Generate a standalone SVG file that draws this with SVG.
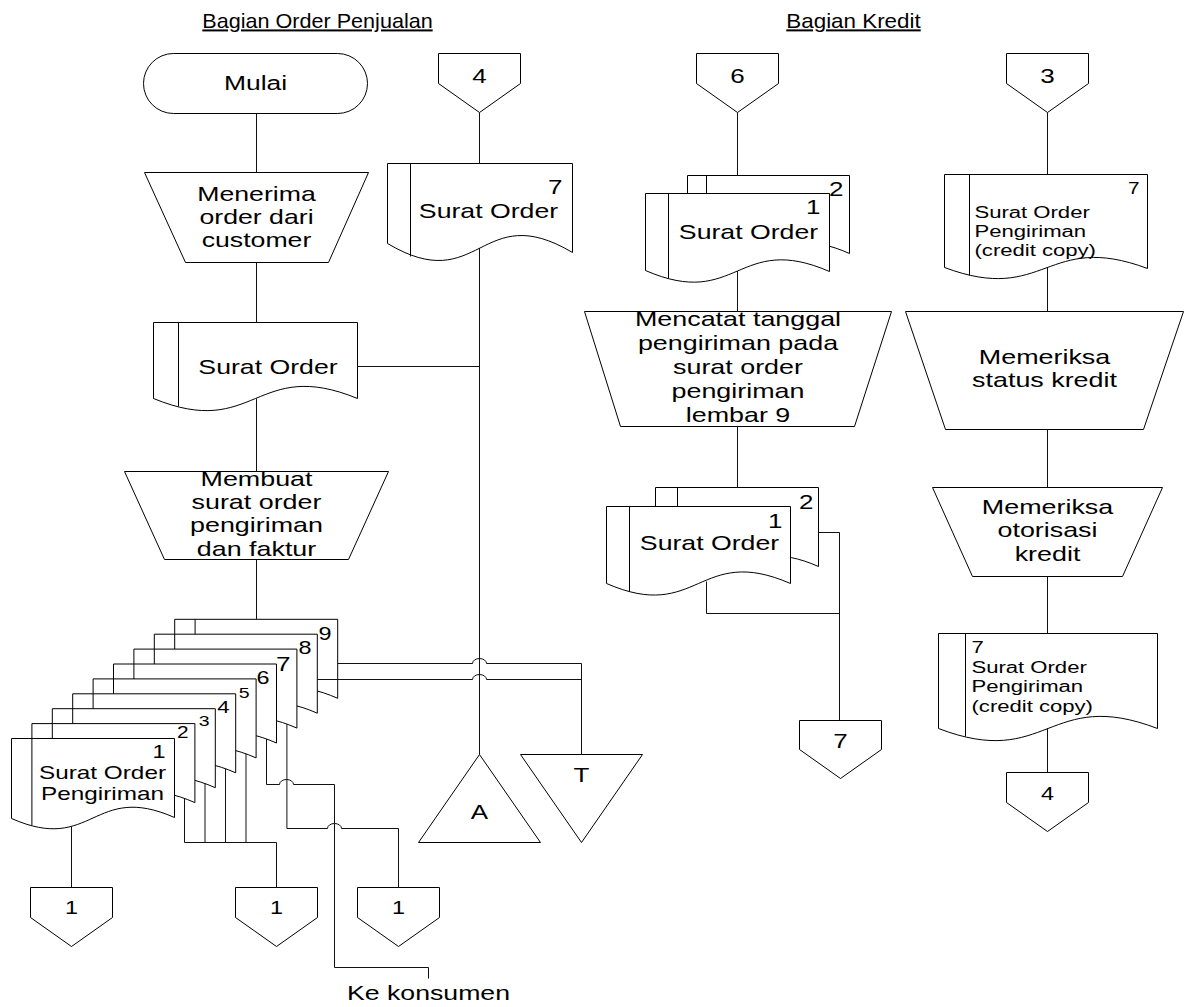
<svg xmlns="http://www.w3.org/2000/svg" width="1186" height="1007" viewBox="0 0 1186 1007">
<style>
.s{fill:#fff;stroke:#000;stroke-width:1}
.ln{fill:none;stroke:#000;stroke-width:1}
.c{fill:none;stroke:#111;stroke-width:1}
text{font-family:"Liberation Sans",Arial,sans-serif;fill:#000}
.f21{font-size:21px}
.f20{font-size:20px}
.f19{font-size:19px}
.f18{font-size:18px}
.f17{font-size:17px}
.f16{font-size:16px}
.f15{font-size:15px}
.m{text-anchor:middle}
.e{text-anchor:end}
.u{text-decoration:underline}
</style>
<rect width="1186" height="1007" fill="#fff"/>
<g transform="translate(0.5,0.5)">
<g id="title-order"><text class="f20 m u" transform="matrix(1.08 0 0 1 317 27)">Bagian Order Penjualan</text></g>
<g id="title-kredit"><text class="f20 m u" transform="matrix(1.12 0 0 1 853 27)">Bagian Kredit</text></g>

<g id="mulai"><rect class="s" x="143" y="53" width="224" height="60" rx="30"/><text class="f21 m" transform="matrix(1.26 0 0 1 255 89)">Mulai</text></g>

<g id="menerima"><path class="s" d="M144,172 H368 L328,262 H185 Z"/><text class="f21 m" transform="matrix(1.27 0 0 1 256 200)"><tspan x="0" y="0">Menerima</tspan><tspan x="0" y="23.5">order dari</tspan><tspan x="0" y="47">customer</tspan></text></g>

<g id="surat-order-a"><path class="s" d="M153,322 H357 V398 C255,356 255,440 153,398 Z"/><path class="ln" d="M178,322 V406"/><text class="f21 m" transform="matrix(1.27 0 0 1 267.5 373)">Surat Order</text></g>

<g id="membuat"><path class="s" d="M124,471 H388 L348,559 H164 Z"/><text class="f21 m" transform="matrix(1.28 0 0 1 256 485)"><tspan x="0" y="0">Membuat</tspan><tspan x="0" y="23.5">surat order</tspan><tspan x="0" y="47">pengiriman</tspan><tspan x="0" y="71">dan faktur</tspan></text></g>

<g id="sop-stack">
<g id="sop-9"><path class="s" d="M174.2,618.8 H337.2 V697.8 C255.7,661.8 255.7,734.8 174.2,698.8 Z"/><path class="ln" d="M194.6,618.8 V705.8"/><text class="f18 e" transform="matrix(1.3 0 0 1 331 639)">9</text></g>
<g id="sop-8"><path class="s" d="M153.8,633.7 H316.8 V712.7 C235.3,676.7 235.3,749.7 153.8,713.7 Z"/><path class="ln" d="M174.2,633.7 V720.7"/><text class="f18 e" transform="matrix(1.3 0 0 1 311 653)">8</text></g>
<g id="sop-7"><path class="s" d="M133.4,648.6 H296.4 V727.6 C214.9,691.6 214.9,764.6 133.4,728.6 Z"/><path class="ln" d="M153.8,648.6 V735.6"/><text class="f20 e" transform="matrix(1.3 0 0 1 290 670)">7</text></g>
<g id="sop-6"><path class="s" d="M113,663.5 H276 V742.5 C194.5,706.5 194.5,779.5 113,743.5 Z"/><path class="ln" d="M133.4,663.5 V750.5"/><text class="f18 e" transform="matrix(1.3 0 0 1 269 683)">6</text></g>
<g id="sop-5"><path class="s" d="M92.6,678.4 H255.6 V757.4 C174.1,721.4 174.1,794.4 92.6,758.4 Z"/><path class="ln" d="M113,678.4 V765.4"/><text class="f15 e" transform="matrix(1.3 0 0 1 249 697)">5</text></g>
<g id="sop-4"><path class="s" d="M72.2,693.3 H235.2 V772.3 C153.7,736.3 153.7,809.3 72.2,773.3 Z"/><path class="ln" d="M92.6,693.3 V780.3"/><text class="f17 e" transform="matrix(1.3 0 0 1 229 712)">4</text></g>
<g id="sop-3"><path class="s" d="M51.8,708.2 H214.8 V787.2 C133.3,751.2 133.3,824.2 51.8,788.2 Z"/><path class="ln" d="M72.2,708.2 V795.2"/><text class="f15 e" transform="matrix(1.3 0 0 1 209 725)">3</text></g>
<g id="sop-2"><path class="s" d="M31.4,723.1 H194.4 V802.1 C112.9,766.1 112.9,839.1 31.4,803.1 Z"/><path class="ln" d="M51.8,723.1 V810.1"/><text class="f16 e" transform="matrix(1.3 0 0 1 188 737)">2</text></g>
<g id="sop-1"><path class="s" d="M11,738 H174 V817 C92.5,781 92.5,854 11,818 Z"/><path class="ln" d="M31.4,738 V825"/><text class="f18 e" transform="matrix(1.3 0 0 1 165 757)">1</text><text class="f19 m" transform="matrix(1.28 0 0 1 102 778)"><tspan x="0" y="0">Surat Order</tspan><tspan x="0" y="22">Pengiriman</tspan></text></g>
</g>

<g id="off-4-top"><path class="s" d="M438,53 H520 V83 L479,112 L438,83 Z"/><text class="f20 m" transform="matrix(1.3 0 0 1 479 82)">4</text></g>

<g id="surat-order-7"><path class="s" d="M387,163 H572 V252 C479.5,197 479.5,298 387,243 Z"/><path class="ln" d="M410,163 V256"/><text class="f20 e" transform="matrix(1.3 0 0 1 562 193)">7</text><text class="f21 m" transform="matrix(1.27 0 0 1 488 217)">Surat Order</text></g>

<g id="term-a"><path class="s" d="M479,754 L540,842 H418 Z"/><text class="f20 m" transform="matrix(1.3 0 0 1 479 818)">A</text></g>
<g id="term-t"><path class="s" d="M520,754 H642 L581,842 Z"/><text class="f20 m" transform="matrix(1.3 0 0 1 581 781)">T</text></g>

<g id="off-1a"><path class="s" d="M30,887 H112 V917 L71,946 L30,917 Z"/><text class="f18 m" transform="matrix(1.3 0 0 1 71 913)">1</text></g>
<g id="off-1b"><path class="s" d="M235,887 H317 V917 L276,946 L235,917 Z"/><text class="f18 m" transform="matrix(1.3 0 0 1 276 913)">1</text></g>
<g id="off-1c"><path class="s" d="M357,887 H439 V917 L398,946 L357,917 Z"/><text class="f18 m" transform="matrix(1.3 0 0 1 398 913)">1</text></g>

<g id="ke-konsumen"><text class="f21 m" transform="matrix(1.27 0 0 1 428 999)">Ke konsumen</text></g>

<g id="off-6"><path class="s" d="M696,53 H778 V83 L737,112 L696,83 Z"/><text class="f20 m" transform="matrix(1.3 0 0 1 737 82)">6</text></g>

<g id="surat-order-b">
<g id="so-b2"><path class="s" d="M687,175 H849 V253 C768,217 768,289 687,253 Z"/><path class="ln" d="M706,175 V260"/><text class="f20 e" transform="matrix(1.3 0 0 1 843 195)">2</text></g>
<g id="so-b1"><path class="s" d="M645,193 H829 V271 C737,231 737,310 645,270 Z"/><path class="ln" d="M668,193 V278"/><text class="f20 e" transform="matrix(1.3 0 0 1 820 213)">1</text><text class="f21 m" transform="matrix(1.27 0 0 1 748 238)">Surat Order</text></g>
</g>

<g id="mencatat"><path class="s" d="M584,311 H891 L854,426 H620 Z"/><text class="f21 m" transform="matrix(1.28 0 0 1 737.5 325.5)"><tspan x="0" y="0">Mencatat tanggal</tspan><tspan x="0" y="24">pengiriman pada</tspan><tspan x="0" y="48">surat order</tspan><tspan x="0" y="72">pengiriman</tspan><tspan x="0" y="96">lembar 9</tspan></text></g>

<g id="surat-order-c">
<g id="so-c2"><path class="s" d="M655,487 H818 V566 C736.5,530 736.5,602 655,566 Z"/><path class="ln" d="M677,487 V574"/><text class="f20 e" transform="matrix(1.3 0 0 1 813 508)">2</text></g>
<g id="so-c1"><path class="s" d="M606,506 H790 V583 C698,543 698,623 606,583 Z"/><path class="ln" d="M629,506 V591"/><text class="f20 e" transform="matrix(1.3 0 0 1 782 527)">1</text><text class="f21 m" transform="matrix(1.27 0 0 1 709 549)">Surat Order</text></g>
</g>

<g id="off-7"><path class="s" d="M799,720 H881 V749 L840,778 L799,749 Z"/><text class="f20 m" transform="matrix(1.3 0 0 1 840 747)">7</text></g>

<g id="off-3"><path class="s" d="M1006,53 H1088 V83 L1047,112 L1006,83 Z"/><text class="f20 m" transform="matrix(1.3 0 0 1 1047 82)">3</text></g>

<g id="sop-credit-a"><path class="s" d="M944,174 H1147 V268 C1045.5,230 1045.5,305 944,267 Z"/><path class="ln" d="M969,174 V275"/><text class="f16 e" transform="matrix(1.3 0 0 1 1139 193)">7</text><text class="f16" transform="matrix(1.38 0 0 1 974 217)"><tspan x="0" y="0">Surat Order</tspan><tspan x="0" y="19.5">Pengiriman</tspan><tspan x="0" y="39">(credit copy)</tspan></text></g>

<g id="status-kredit"><path class="s" d="M905,311 H1183 L1143,429 H945 Z"/><text class="f21 m" transform="matrix(1.28 0 0 1 1044 363)"><tspan x="0" y="0">Memeriksa</tspan><tspan x="0" y="24">status kredit</tspan></text></g>

<g id="otorisasi-kredit"><path class="s" d="M932,487 H1162 L1122,576 H972 Z"/><text class="f21 m" transform="matrix(1.28 0 0 1 1047 513)"><tspan x="0" y="0">Memeriksa</tspan><tspan x="0" y="24">otorisasi</tspan><tspan x="0" y="48">kredit</tspan></text></g>

<g id="sop-credit-b"><path class="s" d="M938,633 H1157 V728 C1047.5,686 1047.5,770 938,728 Z"/><path class="ln" d="M965,633 V736"/><text class="f16" transform="matrix(1.38 0 0 1 971 652)"><tspan x="0" y="0">7</tspan><tspan x="0" y="21">Surat Order</tspan><tspan x="0" y="40">Pengiriman</tspan><tspan x="0" y="60">(credit copy)</tspan></text></g>

<g id="off-4-bottom"><path class="s" d="M1006,772 H1088 V802 L1047,831 L1006,802 Z"/><text class="f18 m" transform="matrix(1.3 0 0 1 1047 799)">4</text></g>

<g id="connectors" class="c">
<path d="M256,113 V172"/>
<path d="M256,262 V322"/>
<path d="M256,398 V471"/>
<path d="M256,559 V618.8"/>
<path d="M357,366 H479"/>
<path d="M479,112 V163"/>
<path d="M479,247.5 V754"/>
<path d="M337.2,663 H472 a7,5 0 0 1 14,0 H581 V754"/>
<path d="M316.8,679 H472 a7,5 0 0 1 14,0 H581"/>
<path d="M71,826 V887"/>
<path d="M184,798 V842"/>
<path d="M204.5,783.2 V842"/>
<path d="M225,768.3 V842"/>
<path d="M245.5,753.4 V842"/>
<path d="M184,842 H276 V887"/>
<path d="M266,738.5 V784 H279 a7,5 0 0 1 14,0 H334 V967 H428 V978"/>
<path d="M286.4,723.6 V828 H327 a7,5 0 0 1 14,0 H398 V887"/>
<path d="M737,112 V175"/>
<path d="M737,270.5 V311"/>
<path d="M737,426 V487"/>
<path d="M818,532 H839 V720"/>
<path d="M706,581 V613 H839"/>
<path d="M1047,112 V174"/>
<path d="M1047,267.5 V311"/>
<path d="M1047,429 V487"/>
<path d="M1047,576 V633"/>
<path d="M1047,728 V772"/>
</g>
</g>
</svg>
